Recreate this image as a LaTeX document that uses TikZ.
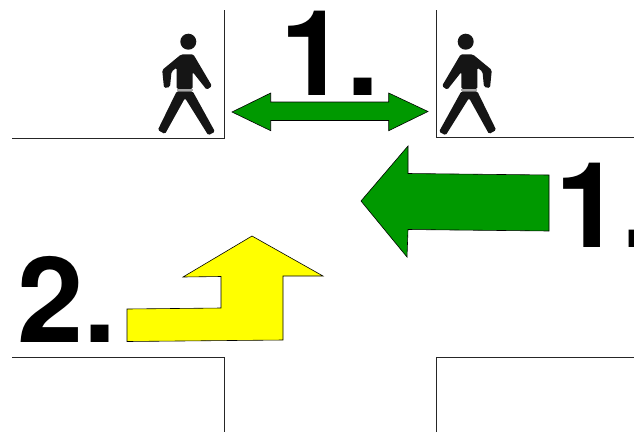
\documentclass[tikz,border=0pt]{standalone}
\usepackage{fontspec}
\setmainfont{TeX Gyre Heros}
\definecolor{arrowgreen}{HTML}{009900}
\definecolor{arrowyellow}{HTML}{FFFF00}
\definecolor{figure}{HTML}{151515}
\tikzset{
  road/.style={draw=black!85,line width=0.75pt},
  arrowshape/.style={draw=black,line width=0.6pt,line join=miter},
  numeral/.style={font=\fontsize{119}{119}\bfseries\selectfont,anchor=base west,inner sep=0pt,text=black},
}
\newcommand{\walker}{%
  \fill[figure] (188.3,41.7) circle (8);
  \fill[figure,rounded corners=1.5pt] (181,54.5) -- (193.3,54.3) -- (212,86) -- (206.7,89.8) -- (192.7,72) -- (192.7,89) -- (176.7,89) -- (176.7,67.5) -- (171.5,71.7) -- (170,87) -- (164,88) -- (162.2,70) -- cycle;
  \fill[black!35] (176.7,89) rectangle (192.7,91.3);
  \fill[figure,rounded corners=1.5pt] (176.7,91.3) -- (192.7,91.3) -- (215,131.7) -- (208.3,135.3) -- (185,98) -- (165,134) -- (157.8,130) -- cycle;
}
\begin{document}
\begin{tikzpicture}[x=1pt,y=-1pt]
\useasboundingbox (0,0) rectangle (634,432);
\clip (0,0) rectangle (634,432);
\draw[road] (224,10) -- (224,138) -- (12,138);
\draw[road] (436,10) -- (436,137) -- (634,137);
\draw[road] (12,357) -- (224,357) -- (224,432);
\draw[road] (436,432) -- (436,357) -- (634,357);
\begin{scope}\walker\end{scope}
\begin{scope}[xshift=654pt,xscale=-1]\walker\end{scope}
\draw[arrowshape,fill=arrowgreen] (232,112) -- (270.7,93) -- (270.7,102) -- (388.7,102) -- (388.7,93) -- (428,111.5) -- (388.7,130.7) -- (388.7,120.5) -- (270.7,120.5) -- (270.7,130.7) -- cycle;
\draw[arrowshape,fill=arrowgreen] (361,201) -- (408,146) -- (408,173.5) -- (549,175) -- (549,231) -- (408,229.5) -- (407,257) -- cycle;
\draw[arrowshape,fill=arrowyellow] (127,309) -- (221,308) -- (221,276.5) -- (183,277) -- (252,236) -- (323,276) -- (283,276) -- (283,340) -- (127,341.5) -- cycle;
\node[numeral] (numtop) at (280,95) {1.};
\node[numeral] (numright) at (555,247) {1.};
\node[numeral] (numleft) at (17,342) {2.};
\end{tikzpicture}
\end{document}
